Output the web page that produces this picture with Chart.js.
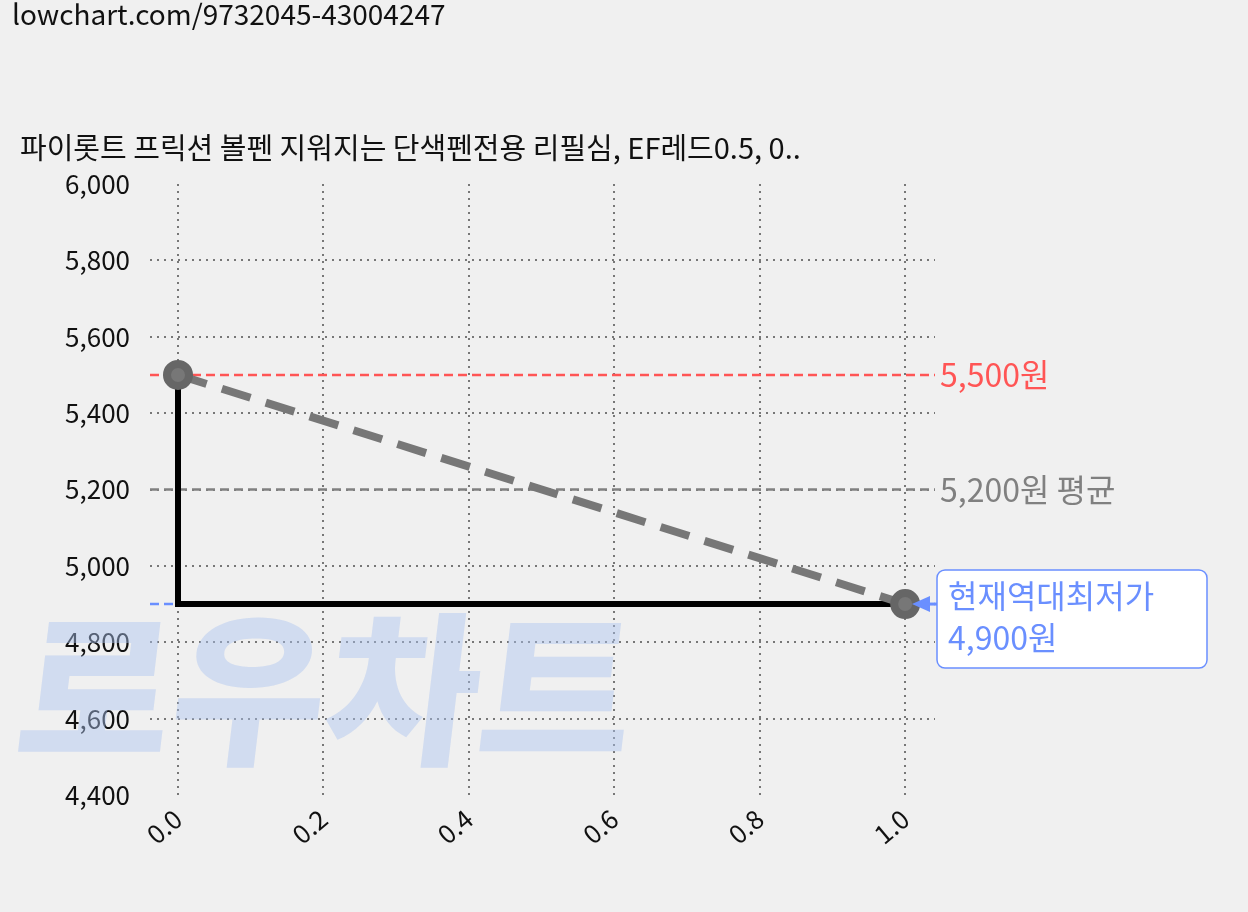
<!DOCTYPE html><html><head><meta charset="utf-8">
<script src="https://cdn.jsdelivr.net/npm/chart.js@4/dist/chart.umd.min.js"></script>
<style>body{margin:0;background:#f0f0f0}canvas{display:block}</style></head><body>
<div style="width:1248px;height:912px"><canvas id="c"></canvas></div>
<script>
const xTicks=[0,0.2,0.4,0.6,0.8,1.0];
const yTicks=[4400,4600,4800,5000,5200,5400,5600,5800,6000];
const trendX=[0,1], trendY=[5500,4900];
const stepX=[0,0,1], stepY=[5500,4900,4900];
const maxPrice=5500, avgPrice=5200, minPrice=4900;
const urlText='lowchart.com/9732045-43004247';
const titleText='파이롯트 프릭션 볼펜 지워지는 단색펜전용 리필심, EF레드0.5, 0..';
const F='"Noto Sans CJK KR", "Noto Sans", sans-serif';
const deco={id:'deco',
 beforeDatasetsDraw(c){const x=c.ctx,a=c.chartArea,ys=c.scales.y;x.save();
  x.font='900 165px '+F;x.fillStyle='rgba(170,195,240,0.45)';x.textBaseline='alphabetic';
  const w=x.measureText('로우차트').width;
  x.save();x.translate(12,752);x.transform(615/w,0,-0.12,1,0,0);x.fillText('로우차트',0,0);x.restore();
  const line=(v,col,x0)=>{x.strokeStyle=col;x.lineWidth=2.5;x.setLineDash([9,5]);x.beginPath();x.moveTo(x0,ys.getPixelForValue(v));x.lineTo(a.right,ys.getPixelForValue(v));x.stroke();};
  line(maxPrice,'#ff5555',a.left);line(avgPrice,'#808080',a.left);line(minPrice,'#6a8fff',a.left);
  x.restore();},
 afterDraw(c){const x=c.ctx,a=c.chartArea,ys=c.scales.y;x.save();x.setLineDash([]);
  x.font='28px '+F;x.textBaseline='top';x.fillStyle='#111';x.fillText(urlText,12,0);
  x.font='29px '+F;x.fillText(titleText,20,133);
  x.font='32px '+F;x.textBaseline='middle';
  x.fillStyle='#ff5555';x.fillText('5,500원',940,ys.getPixelForValue(maxPrice));
  x.fillStyle='#808080';x.fillText('5,200원 평균',940,ys.getPixelForValue(avgPrice));
  const y=ys.getPixelForValue(minPrice);
  x.fillStyle='#fff';x.strokeStyle='#6a8fff';x.lineWidth=1.5;x.beginPath();x.roundRect(937,570,270,98,8);x.fill();x.stroke();
  x.fillStyle='#6a8fff';x.fillText('현재역대최저가',948,596);x.fillText('4,900원',948,638);
  x.beginPath();x.moveTo(912,y);x.lineTo(930,y-8);x.lineTo(930,y+8);x.fill();
  x.fillRect(925,y-1.5,12,3);
  x.restore();}};
new Chart(document.getElementById('c'),{type:'scatter',
 data:{datasets:[
  {data:stepX.map((v,i)=>({x:v,y:stepY[i]})),showLine:true,borderColor:'#000',borderWidth:6,pointRadius:0,order:2},
  {data:trendX.map((v,i)=>({x:v,y:trendY[i]})),showLine:true,borderColor:'#777',borderWidth:8,borderDash:[30,16],pointRadius:11,pointBackgroundColor:'#777',pointBorderColor:'#666',order:1}]},
 options:{responsive:true,maintainAspectRatio:false,animation:false,
  layout:{padding:{top:184,right:313,left:0,bottom:0}},
  plugins:{legend:{display:false},tooltip:{enabled:false}},
  scales:{
   x:{min:-0.0385,max:1.041,afterBuildTicks:s=>{s.ticks=xTicks.map(v=>({value:v}));},afterFit:s=>{s.height=117;},
    border:{display:false,dash:[2,5]},grid:{color:'#777',lineWidth:2,drawTicks:false},
    ticks:{maxRotation:40,minRotation:40,font:{size:26,family:F},color:'#111',padding:8,callback:v=>v.toFixed(1)}},
   y:{min:4400,max:6000,afterBuildTicks:s=>{s.ticks=yTicks.map(v=>({value:v}));},afterFit:s=>{s.width=150;},
    border:{display:false,dash:[2,5]},grid:{color:c=>(c.tick&&(c.tick.value===4400||c.tick.value===6000))?'rgba(0,0,0,0)':'#777',lineWidth:2,drawTicks:false},
    ticks:{font:{size:26,family:F},color:'#111',padding:20,callback:v=>v.toLocaleString('en-US')}}}},
 plugins:[deco]});
</script></body></html>
